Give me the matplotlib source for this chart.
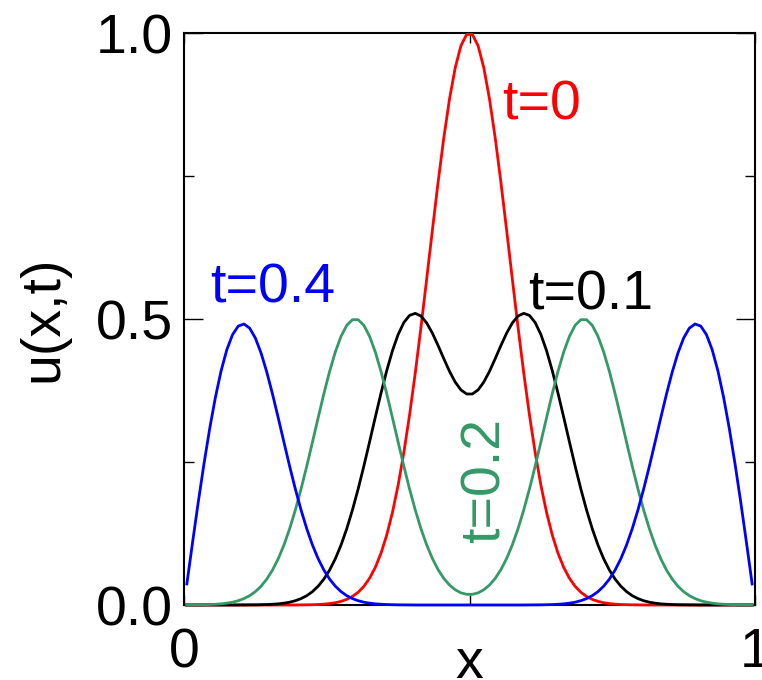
import numpy as np
import matplotlib
matplotlib.use("Agg")
import matplotlib.pyplot as plt
from matplotlib.ticker import FixedLocator

plt.rcParams['font.family'] = ['Liberation Sans', 'DejaVu Sans']

# grid of x positions (cell centres)
x = np.linspace(0.005, 0.995, 100)

u_t0 = [0]*20 + [
    0.0002, 0.0003, 0.0005, 0.0009, 0.0015, 0.0025, 0.0040, 0.0063, 0.0098, 0.0150,
    0.0223, 0.0326, 0.0468, 0.0657, 0.0905, 0.1221, 0.1616, 0.2096, 0.2665, 0.3321,
    0.4056, 0.4855, 0.5698, 0.6554, 0.7390, 0.8167, 0.8847, 0.9394, 0.9778, 0.9975,
    0.9975, 0.9778, 0.9394, 0.8847, 0.8167, 0.7390, 0.6554, 0.5698, 0.4855, 0.4056,
    0.3321, 0.2665, 0.2096, 0.1616, 0.1221, 0.0905, 0.0657, 0.0468, 0.0326, 0.0223,
    0.0150, 0.0098, 0.0063, 0.0040, 0.0025, 0.0015, 0.0009, 0.0005, 0.0003, 0.0002,
] + [0]*20

u_t01 = [0]*10 + [
    0.0001, 0.0002, 0.0003, 0.0005, 0.0008, 0.0013, 0.0020, 0.0032, 0.0049, 0.0075,
    0.0112, 0.0163, 0.0234, 0.0329, 0.0453, 0.0611, 0.0808, 0.1048, 0.1333, 0.1661,
    0.2029, 0.2429, 0.2852, 0.3282, 0.3703, 0.4096, 0.4444, 0.4729, 0.4938, 0.5063,
    0.5099, 0.5052, 0.4931, 0.4752, 0.4536, 0.4306, 0.4085, 0.3897, 0.3760, 0.3689,
    0.3689, 0.3760, 0.3897, 0.4085, 0.4306, 0.4536, 0.4752, 0.4931, 0.5052, 0.5099,
    0.5063, 0.4938, 0.4729, 0.4444, 0.4096, 0.3703, 0.3282, 0.2852, 0.2429, 0.2029,
    0.1661, 0.1333, 0.1048, 0.0808, 0.0611, 0.0453, 0.0329, 0.0234, 0.0163, 0.0112,
    0.0075, 0.0049, 0.0032, 0.0020, 0.0013, 0.0008, 0.0005, 0.0003, 0.0002, 0.0001,
] + [0]*10

u_t02 = [
    0.0001, 0.0002, 0.0003, 0.0005, 0.0008, 0.0013, 0.0020, 0.0032, 0.0049, 0.0075,
    0.0112, 0.0163, 0.0234, 0.0329, 0.0453, 0.0611, 0.0808, 0.1048, 0.1333, 0.1661,
    0.2028, 0.2428, 0.2849, 0.3277, 0.3695, 0.4084, 0.4424, 0.4697, 0.4889, 0.4988,
    0.4988, 0.4889, 0.4697, 0.4424, 0.4084, 0.3695, 0.3277, 0.2849, 0.2428, 0.2028,
    0.1662, 0.1334, 0.1051, 0.0813, 0.0618, 0.0465, 0.0349, 0.0266, 0.0212, 0.0187,
    0.0187, 0.0212, 0.0266, 0.0349, 0.0465, 0.0618, 0.0813, 0.1051, 0.1334, 0.1662,
    0.2028, 0.2428, 0.2849, 0.3277, 0.3695, 0.4084, 0.4424, 0.4697, 0.4889, 0.4988,
    0.4988, 0.4889, 0.4697, 0.4424, 0.4084, 0.3695, 0.3277, 0.2849, 0.2428, 0.2028,
    0.1661, 0.1333, 0.1048, 0.0808, 0.0611, 0.0453, 0.0329, 0.0234, 0.0163, 0.0112,
    0.0075, 0.0049, 0.0032, 0.0020, 0.0013, 0.0008, 0.0005, 0.0003, 0.0002, 0.0001,
]

u_t04 = [
    0.0368, 0.1095, 0.1801, 0.2469, 0.3085, 0.3631, 0.4095, 0.4463, 0.4726, 0.4876,
    0.4913, 0.4840, 0.4666, 0.4404, 0.4071, 0.3688, 0.3273, 0.2847, 0.2426, 0.2027,
    0.1661, 0.1333, 0.1048, 0.0808, 0.0611, 0.0453, 0.0329, 0.0234, 0.0163, 0.0112,
    0.0075, 0.0049, 0.0032, 0.0020, 0.0013, 0.0008, 0.0005, 0.0003, 0.0002, 0.0001,
    0, 0, 0, 0, 0, 0, 0, 0, 0, 0,
    0, 0, 0, 0, 0, 0, 0, 0, 0, 0,
    0.0001, 0.0002, 0.0003, 0.0005, 0.0008, 0.0013, 0.0020, 0.0032, 0.0049, 0.0075,
    0.0112, 0.0163, 0.0234, 0.0329, 0.0453, 0.0611, 0.0808, 0.1048, 0.1333, 0.1661,
    0.2027, 0.2426, 0.2847, 0.3273, 0.3688, 0.4071, 0.4404, 0.4666, 0.4840, 0.4913,
    0.4876, 0.4726, 0.4463, 0.4095, 0.3631, 0.3085, 0.2469, 0.1801, 0.1095, 0.0368,
]

series = [
    (u_t0, '#ff0000'),
    (u_t01, '#000000'),
    (u_t02, '#339966'),
    (u_t04, '#0000ff'),
]

xticks = [0, 0.5, 1]
xticklabels = ['0', '', '1']
yticks = [0, 0.5, 1.0]
yticklabels = ['0.0', '0.5', '1.0']
yminor = [0.25, 0.75]

fig = plt.figure(figsize=(7.62, 6.8), dpi=100)
ax = fig.add_axes([184/762, 1 - 605/680, 571/762, 572/680])

for vals, col in series:
    ax.plot(x, vals, color=col, lw=2.0, clip_on=False, zorder=3)

ax.set_xlim(0, 1)
ax.set_ylim(0, 1)
ax.set_xticks(xticks)
ax.set_xticklabels(xticklabels)
ax.set_yticks(yticks)
ax.set_yticklabels(yticklabels)
ax.yaxis.set_minor_locator(FixedLocator(yminor))

ax.tick_params(axis='x', which='major', direction='in', top=True, bottom=True,
               length=7, width=1.0, labelsize=40, pad=16)
ax.tick_params(axis='y', which='major', direction='in', left=True, right=True,
               length=13.5, width=1.0, labelsize=40, pad=8)
ax.tick_params(axis='y', which='minor', direction='in', left=True, right=True,
               length=7, width=1.0)
for s in ax.spines.values():
    s.set_linewidth(1.5)

ax.set_xlabel('x', fontsize=40)
ax.xaxis.label.set_va('baseline')
ax.xaxis.set_label_coords(0.5, -0.1276)
ax.set_ylabel('u(x,t)', fontsize=40)
ax.yaxis.label.set_va('center')
ax.yaxis.set_label_coords(-0.247, 0.5)

ax.text(0.557, 0.848, 't=0', color='#ff0000', fontsize=40, ha='left', va='baseline')
ax.text(0.6025, 0.516, 't=0.1', color='#000000', fontsize=40, ha='left', va='baseline')
ax.text(0.0455, 0.528, 't=0.4', color='#0000ff', fontsize=40, ha='left', va='baseline')
ax.text(0.5534, 0.2185, 't=0.2', color='#339966', fontsize=40, rotation=90,
        rotation_mode='anchor', ha='center', va='baseline')

fig.savefig('out.png', dpi=100)
